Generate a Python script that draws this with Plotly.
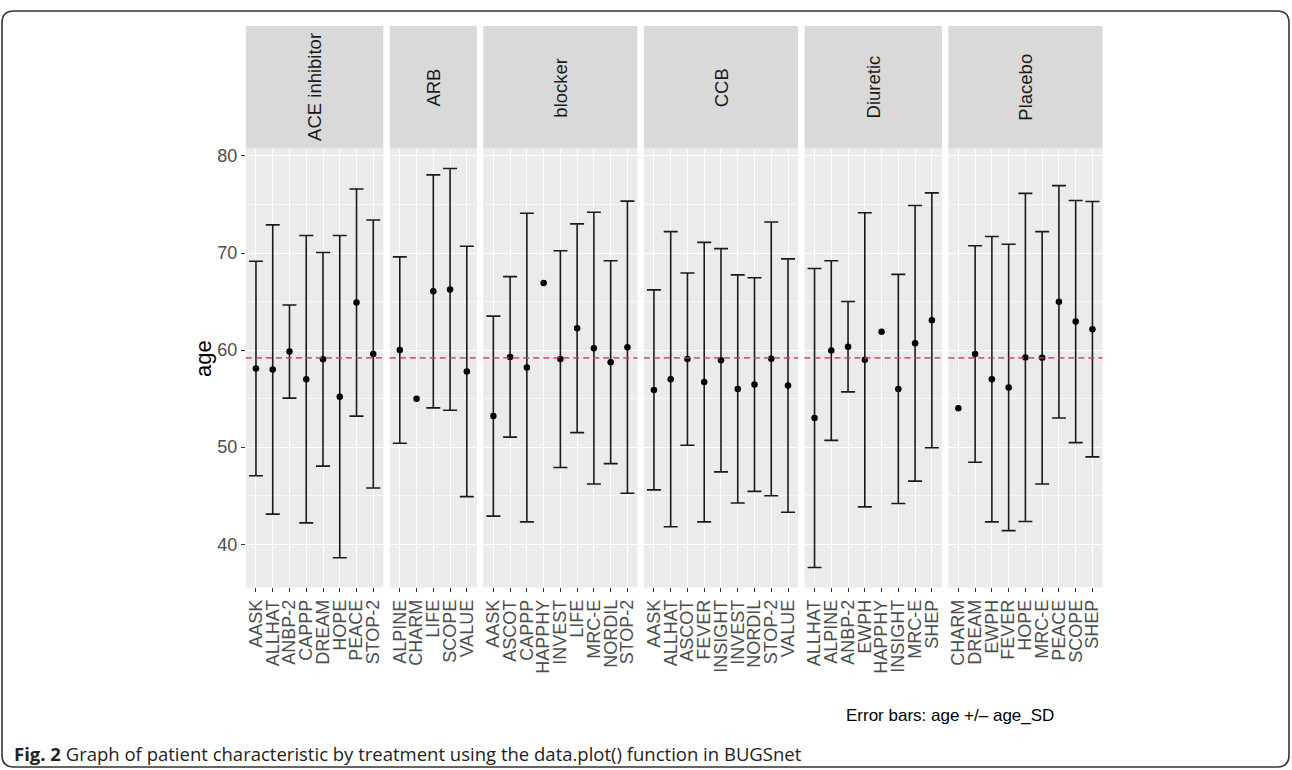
import plotly.graph_objects as go

# ---------------- data ----------------
treatments = ["ACE inhibitor", "ARB", "blocker", "CCB", "Diuretic", "Placebo"]

ace_studies = ["AASK", "ALLHAT", "ANBP-2", "CAPPP", "DREAM", "HOPE", "PEACE", "STOP-2"]
ace_age = [58.1, 58.0, 59.85, 57.0, 59.05, 55.2, 64.9, 59.6]
ace_sd = [11.05, 14.9, 4.8, 14.8, 11.0, 16.6, 11.7, 13.8]

arb_studies = ["ALPINE", "CHARM", "LIFE", "SCOPE", "VALUE"]
arb_age = [60.0, 55.0, 66.05, 66.25, 57.8]
arb_sd = [9.6, None, 12.0, 12.45, 12.9]

blocker_studies = ["AASK", "ASCOT", "CAPPP", "HAPPHY", "INVEST", "LIFE", "MRC-E", "NORDIL", "STOP-2"]
blocker_age = [53.2, 59.3, 58.2, 66.9, 59.07, 62.25, 60.2, 58.75, 60.3]
blocker_sd = [10.3, 8.27, 15.9, None, 11.17, 10.75, 14.0, 10.45, 15.05]

ccb_studies = ["AASK", "ALLHAT", "ASCOT", "FEVER", "INSIGHT", "INVEST", "NORDIL", "STOP-2", "VALUE"]
ccb_age = [55.9, 57.0, 59.07, 56.7, 58.95, 56.0, 56.45, 59.1, 56.35]
ccb_sd = [10.3, 15.2, 8.87, 14.4, 11.5, 11.75, 11.0, 14.1, 13.05]

diuretic_studies = ["ALLHAT", "ALPINE", "ANBP-2", "EWPH", "HAPPHY", "INSIGHT", "MRC-E", "SHEP"]
diuretic_age = [53.0, 59.95, 60.35, 59.0, 61.9, 56.0, 60.7, 63.07]
diuretic_sd = [15.4, 9.25, 4.65, 15.15, None, 11.8, 14.2, 13.13]

placebo_studies = ["CHARM", "DREAM", "EWPH", "FEVER", "HOPE", "MRC-E", "PEACE", "SCOPE", "SHEP"]
placebo_age = [54.0, 59.6, 57.0, 56.15, 59.24, 59.2, 64.97, 62.94, 62.15]
placebo_sd = [None, 11.15, 14.7, 14.75, 16.9, 13.0, 11.97, 12.47, 13.15]

overall_mean_age = 59.2

panels = [
    (ace_studies, ace_age, ace_sd),
    (arb_studies, arb_age, arb_sd),
    (blocker_studies, blocker_age, blocker_sd),
    (ccb_studies, ccb_age, ccb_sd),
    (diuretic_studies, diuretic_age, diuretic_sd),
    (placebo_studies, placebo_age, placebo_sd),
]

# ---------------- layout geometry (pixels) ----------------
W, H = 1292, 770
LEFT = 245.9
UNIT = 16.76
GAP = 6.4
TOP = 147
BOTTOM = 587
STRIP_TOP = 24


def px(x):
    return x / W


def py(y):
    return 1 - y / H


TICK_FONT = dict(family="Liberation Sans, Arial, sans-serif", size=18, color="#4D4D4D")
STRIP_FONT = dict(family="Liberation Sans, Arial, sans-serif", size=18.5, color="#1A1A1A")

# y range with ggplot-like 5% expansion
lows = [a - s for _, ag, sd in panels for a, s in zip(ag, sd) if s is not None]
highs = [a + s for _, ag, sd in panels for a, s in zip(ag, sd) if s is not None]
span = max(highs) - min(lows)
y_range = [min(lows) - 0.05 * span, max(highs) + 0.05 * span]

fig = go.Figure()
shapes = []
annotations = []

x_cursor = LEFT
for i, (studies, ages, sds) in enumerate(panels):
    n = len(studies)
    width = (n + 0.2) * UNIT
    x0, x1 = x_cursor, x_cursor + width
    x_cursor = x1 + GAP
    idx = "" if i == 0 else str(i + 1)
    xa = "x" + idx
    ya = "y" + idx

    # error bars (only for studies with SD)
    eb_x = [s for s, d in zip(studies, sds) if d is not None]
    eb_y = [a for a, d in zip(ages, sds) if d is not None]
    eb_e = [d for d in sds if d is not None]
    fig.add_trace(go.Scatter(
        x=eb_x, y=eb_y, mode="markers",
        marker=dict(size=1, color="rgba(0,0,0,0)"),
        error_y=dict(type="data", array=eb_e, visible=True, color="#1a1a1a",
                     thickness=1.6, width=7),
        xaxis=xa, yaxis=ya, showlegend=False, hoverinfo="skip",
    ))
    fig.add_trace(go.Scatter(
        x=studies, y=ages, mode="markers",
        marker=dict(size=6.5, color="black"),
        xaxis=xa, yaxis=ya, showlegend=False,
    ))

    fig.layout["xaxis" + idx] = dict(
        domain=[px(x0), px(x1)], anchor=ya, type="category",
        categoryorder="array", categoryarray=studies,
        tickmode="linear", tick0=0, dtick=1,
        range=[-0.6, n - 0.4], showgrid=True, gridcolor="white", gridwidth=1.2,
        zeroline=False, ticks="outside", ticklen=4, tickcolor="#333333", tickwidth=1,
        tickangle=-90, tickfont=TICK_FONT, showline=False, fixedrange=True,
    )
    yax = dict(
        domain=[py(BOTTOM), py(TOP)], anchor=xa, range=y_range,
        tickvals=[40, 50, 60, 70, 80], showgrid=True, gridcolor="white", gridwidth=1.2,
        minor=dict(dtick=5, showgrid=True, gridcolor="#F7F7F7", gridwidth=0.6),
        zeroline=False, showline=False, fixedrange=True,
    )
    if i == 0:
        yax.update(ticks="outside", ticklen=4, tickcolor="#333333", tickwidth=1,
                   tickfont=TICK_FONT, showticklabels=True)
    else:
        yax.update(matches="y", showticklabels=False, ticks="")
    fig.layout["yaxis" + idx] = yax

    # overall mean reference line
    shapes.append(dict(
        type="line", xref=xa + " domain", yref=ya, x0=0, x1=1,
        y0=overall_mean_age, y1=overall_mean_age,
        line=dict(color="rgba(228,50,80,0.8)", width=1.8, dash="6px,4px"),
        layer="above",
    ))
    # strip
    shapes.append(dict(
        type="rect", xref="paper", yref="paper",
        x0=px(x0), x1=px(x1), y0=py(TOP), y1=py(STRIP_TOP),
        fillcolor="#D9D9D9", line=dict(width=0), layer="below",
    ))
    annotations.append(dict(
        text=treatments[i], xref="paper", yref="paper",
        x=px((x0 + x1) / 2), y=py((STRIP_TOP + TOP) / 2),
        textangle=-90, showarrow=False, font=STRIP_FONT,
        xanchor="center", yanchor="middle",
    ))

# y axis title
annotations.append(dict(
    text="age", xref="paper", yref="paper", x=px(203), y=py(358),
    textangle=-90, showarrow=False,
    font=dict(family="Liberation Sans, Arial, sans-serif", size=22, color="black"),
    xanchor="center", yanchor="middle",
))
# error bar note
annotations.append(dict(
    text="Error bars: age +/\u2013 age_SD", xref="paper", yref="paper",
    x=px(1056), y=py(715), showarrow=False,
    font=dict(family="Liberation Sans, Arial, sans-serif", size=17, color="black"),
    xanchor="right", yanchor="middle",
))
# figure caption
annotations.append(dict(
    text="<b>Fig. 2</b> Graph of patient characteristic by treatment using the data.plot() function in BUGSnet",
    xref="paper", yref="paper", x=px(12), y=py(753), showarrow=False,
    font=dict(family="Open Sans, sans-serif", size=18.5, color="#222222"),
    xanchor="left", yanchor="middle",
))

# rounded frame
fx0, fx1, fy0, fy1, r = 2, 1289, 9, 767, 12
frame_path = (
    f"M {px(fx0 + r)} {py(fy0)} L {px(fx1 - r)} {py(fy0)} "
    f"Q {px(fx1)} {py(fy0)} {px(fx1)} {py(fy0 + r)} "
    f"L {px(fx1)} {py(fy1 - r)} Q {px(fx1)} {py(fy1)} {px(fx1 - r)} {py(fy1)} "
    f"L {px(fx0 + r)} {py(fy1)} Q {px(fx0)} {py(fy1)} {px(fx0)} {py(fy1 - r)} "
    f"L {px(fx0)} {py(fy0 + r)} Q {px(fx0)} {py(fy0)} {px(fx0 + r)} {py(fy0)} Z"
)
shapes.append(dict(type="path", xref="paper", yref="paper", path=frame_path,
                   line=dict(color="#333333", width=1.6), layer="above"))

fig.update_layout(
    width=W, height=H,
    margin=dict(l=0, r=0, t=0, b=0),
    paper_bgcolor="white", plot_bgcolor="#EBEBEB",
    shapes=shapes, annotations=annotations,
    showlegend=False,
)

fig.write_html(
    "out.html",
    config={"displayModeBar": False},
    post_script="document.body.style.margin='0';document.body.style.overflow='hidden';",
)
